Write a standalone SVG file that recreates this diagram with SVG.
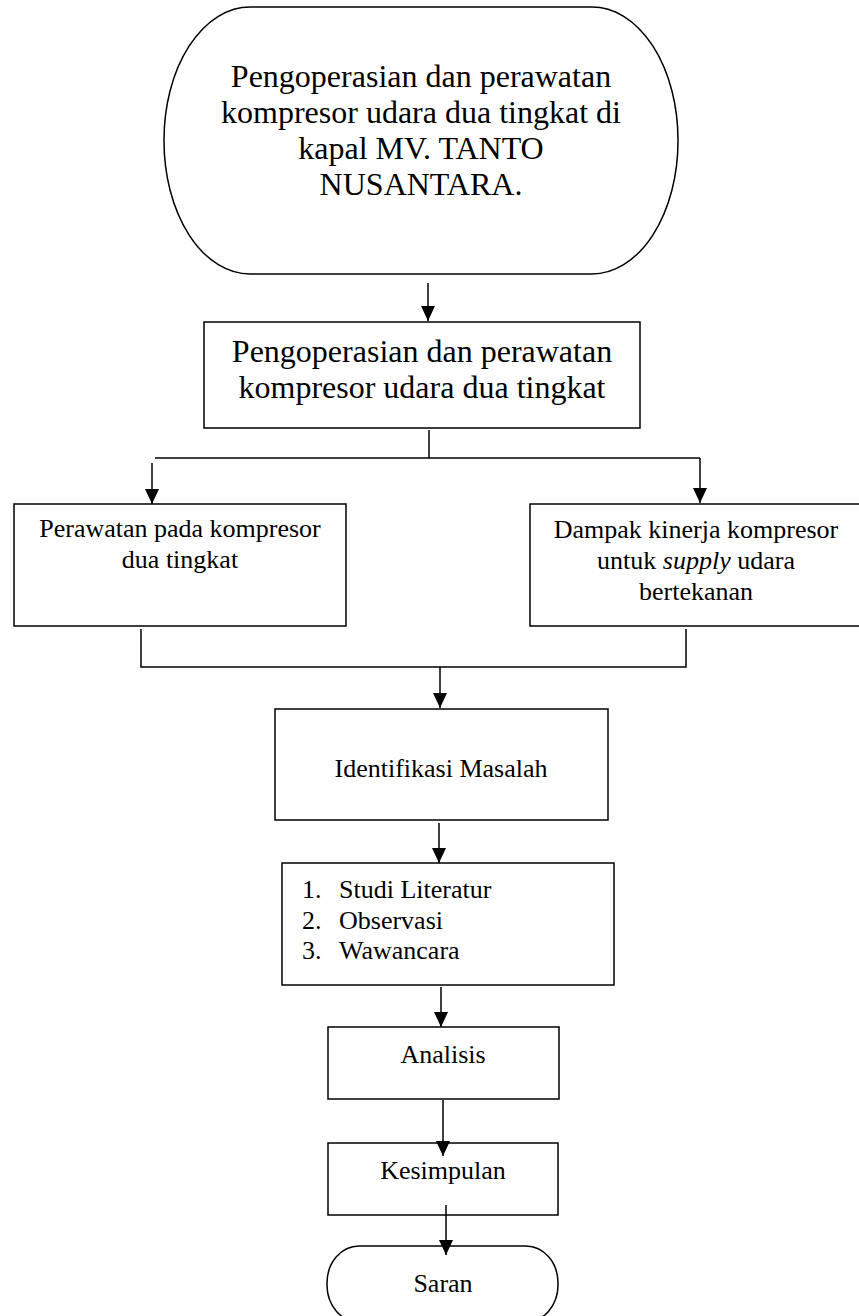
<svg xmlns="http://www.w3.org/2000/svg" width="859" height="1316" viewBox="0 0 859 1316">
<style>
.s{fill:#fff;stroke:#000;stroke-width:1.5}
.c{fill:none;stroke:#000;stroke-width:1.5}
.t{font-family:"Liberation Serif","Times New Roman",serif;fill:#000;text-anchor:middle}
.l{font-family:"Liberation Serif","Times New Roman",serif;fill:#000;text-anchor:start;font-size:26px}
.b{font-size:32px}
.m{font-size:26px}
</style>
<defs>
<marker id="ah" viewBox="0 0 15 14" refX="15" refY="7" markerWidth="15" markerHeight="14" markerUnits="userSpaceOnUse" orient="auto">
<path d="M0,0 L15,7 L0,14 Z" fill="#000"/>
</marker>
</defs>
<rect width="859" height="1316" fill="#fff"/>
<g id="start">
<rect class="s" x="164" y="7" width="514" height="267" rx="86" ry="133"/>
<text class="t b" x="421" y="87">Pengoperasian dan perawatan</text>
<text class="t b" x="421" y="123">kompresor udara dua tingkat di</text>
<text class="t b" x="421" y="159">kapal MV. TANTO</text>
<text class="t b" x="421" y="195">NUSANTARA.</text>
</g>
<g id="topic">
<rect class="s" x="204" y="322" width="436" height="106"/>
<text class="t b" x="422" y="362">Pengoperasian dan perawatan</text>
<text class="t b" x="422" y="398">kompresor udara dua tingkat</text>
</g>
<g id="perawatan">
<rect class="s" x="14" y="504" width="332" height="122"/>
<text class="t m" x="180" y="537">Perawatan pada kompresor</text>
<text class="t m" x="180" y="568">dua tingkat</text>
</g>
<g id="dampak">
<rect class="s" x="530" y="504" width="335" height="122"/>
<text class="t m" x="696" y="538">Dampak kinerja kompresor</text>
<text class="t m" x="696" y="569">untuk <tspan font-style="italic">supply</tspan> udara</text>
<text class="t m" x="696" y="600">bertekanan</text>
</g>
<g id="identifikasi">
<rect class="s" x="275" y="709" width="333" height="111"/>
<text class="t m" x="441" y="777">Identifikasi Masalah</text>
</g>
<g id="metode">
<rect class="s" x="282" y="863" width="332" height="122"/>
<text class="l" x="302" y="898">1.</text>
<text class="l" x="339" y="898">Studi Literatur</text>
<text class="l" x="302" y="929">2.</text>
<text class="l" x="339" y="929">Observasi</text>
<text class="l" x="302" y="959">3.</text>
<text class="l" x="339" y="959">Wawancara</text>
</g>
<g id="analisis">
<rect class="s" x="328" y="1027" width="231" height="72"/>
<text class="t m" x="443" y="1063">Analisis</text>
</g>
<g id="kesimpulan">
<rect class="s" x="328" y="1143" width="230" height="72"/>
<text class="t m" x="443" y="1179">Kesimpulan</text>
</g>
<g id="saran">
<rect class="s" x="327" y="1246" width="231" height="76" rx="32" ry="37"/>
<text class="t m" x="443" y="1292">Saran</text>
</g>
<g id="connectors">
<line class="c" x1="428" y1="283" x2="428" y2="321" marker-end="url(#ah)"/>
<polyline class="c" points="429,430 429,458"/>
<line class="c" x1="155" y1="458" x2="700" y2="458"/>
<line class="c" x1="152" y1="463" x2="152" y2="504" marker-end="url(#ah)"/>
<line class="c" x1="700" y1="458" x2="700" y2="503" marker-end="url(#ah)"/>
<polyline class="c" points="141,629 141,667 686,667 686,629"/>
<line class="c" x1="440" y1="667" x2="440" y2="708" marker-end="url(#ah)"/>
<line class="c" x1="439" y1="823" x2="439" y2="863" marker-end="url(#ah)"/>
<line class="c" x1="441" y1="987" x2="441" y2="1027" marker-end="url(#ah)"/>
<line class="c" x1="443" y1="1100" x2="443" y2="1156" marker-end="url(#ah)"/>
<line class="c" x1="446" y1="1205" x2="446" y2="1255" marker-end="url(#ah)"/>
</g>
</svg>
